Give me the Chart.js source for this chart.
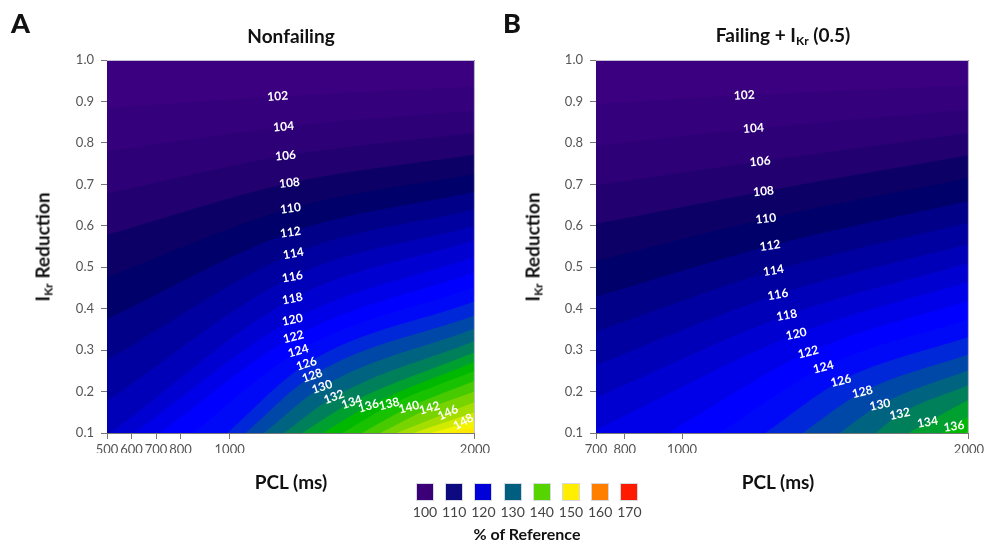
<!DOCTYPE html>
<html><head><meta charset="utf-8">
<script src="https://cdn.jsdelivr.net/npm/chart.js@4.4.0/dist/chart.umd.min.js"></script>
<style>
html,body{margin:0;padding:0;background:#fff;}
body{width:987px;height:546px;position:relative;overflow:hidden;font-family:Lato,'Open Sans',sans-serif;color:#111;}
canvas{position:absolute;top:0;}
.panel{position:absolute;font-weight:900;font-size:27px;line-height:1;}
.ttl{position:absolute;font-weight:700;font-size:19px;transform:translate(-50%,-50%);white-space:nowrap;}
.ytl{position:absolute;font-weight:700;font-size:19px;transform:translate(-50%,-50%) rotate(-90deg);white-space:nowrap;}
sub{font-size:12px;vertical-align:-3px;}
.sw{position:absolute;top:483px;width:18px;height:18px;box-sizing:border-box;border:1px solid #d8d8e0;}
.swl{position:absolute;top:503px;font-size:14px;color:#444;transform:translateX(-50%);}
</style></head>
<body>
<canvas id="cA" width="493" height="546" style="left:0;width:493px;height:546px"></canvas>
<canvas id="cB" width="494" height="546" style="left:493px;width:494px;height:546px"></canvas>
<div class="panel" style="left:11px;top:9px">A</div>
<div class="panel" style="left:503px;top:9px">B</div>
<div class="ttl" style="left:291px;top:35px">Nonfailing</div>
<div class="ttl" style="left:783px;top:35px">Failing + I<sub>Kr</sub> (0.5)</div>
<div class="ytl" style="left:43px;top:247px">I<sub>Kr</sub> Reduction</div>
<div class="ytl" style="left:533px;top:247px">I<sub>Kr</sub> Reduction</div>
<div class="ttl" style="left:291px;top:481px">PCL (ms)</div>
<div class="ttl" style="left:778px;top:481px">PCL (ms)</div>
<div id="legend"></div>
<div class="ttl" style="left:527px;top:533px;font-size:16px">% of Reference</div>
<script>
// ---------- data ----------
const yTicks = [0.1,0.2,0.3,0.4,0.5,0.6,0.7,0.8,0.9,1.0];
const xTicksA = [500,600,700,800,1000,2000];
const xTicksB = [700,800,1000,2000];

// Panel A (Nonfailing): contour levels and their traced paths (PCL, IKr reduction)
const levelsA = [100,102,104,106,108,110,112,114,116,118,120,122,124,126,128,130,132,134,136,138,140,142,144,146,148,150];
const pclA = [
 [500,2000],[500,1196,2000],[500,1220,2000],[500,1228,2000],[500,1244,2000],[500,1248,2000],
 [500,1248,2000],[500,1260,2000],[500,1256,2000],[514,1256,2000],[610,1256,2000],[715,1260,2000],
 [850,1280,2000],[990,1313,2000],[1065,1337,2000],[1140,1377,2000],[1221,1425,2000],[1297,1498,2000],
 [1380,1566,2000],[1460,1650,2000],[1540,1731,2000],[1615,1815,2000],[1680,2000],[1750,2000],
 [1820,2000],[1880,2000]
];
const ikrA = [
 [1,1],[.884,.912,.936],[.78,.839,.878],[.678,.769,.824],[.578,.703,.772],[.476,.642,.725],
 [.375,.584,.682],[.276,.533,.64],[.177,.477,.6],[.1,.424,.565],[.1,.373,.525],[.1,.332,.488],
 [.1,.298,.452],[.1,.267,.418],[.1,.238,.384],[.1,.211,.352],[.1,.187,.322],[.1,.174,.295],
 [.1,.165,.272],[.1,.166,.25],[.1,.162,.226],[.1,.160,.2],[.1,.175],[.1,.15],
 [.1,.13],[.1,.113]
];
const labelValA = [102,104,106,108,110,112,114,116,118,120,122,124,126,128,130,132,134,136,138,140,142,146,148];
const labelPclA = [1196,1220,1228,1244,1248,1248,1260,1256,1256,1256,1260,1280,1313,1337,1377,1425,1498,1566,1650,1731,1815,1890,1953];
const labelIkrA = [.912,.839,.769,.703,.642,.584,.533,.477,.424,.373,.332,.298,.267,.238,.211,.187,.174,.165,.170,.162,.160,.149,.127];

// Panel B (Failing + IKr 0.5)
const levelsB = [100,102,104,106,108,110,112,114,116,118,120,122,124,126,128,130,132,134,136,138];
const pclB = [
 [700,2000],[700,1217,2000],[700,1249,2000],[700,1272,2000],[700,1284,2000],[700,1292,2000],
 [700,1307,2000],[700,1319,2000],[700,1334,2000],[700,1365,2000],[700,1398,2000],[950,1440,2000],
 [1130,1493,2000],[1290,1554,2000],[1420,1629,2000],[1550,1690,2000],[1675,1759,2000],[1790,1856,2000],
 [1905,1948,2000],[1985,2000]
];
const ikrB = [
 [1,1],[.894,.915,.9385],[.794,.835,.88],[.698,.755,.824],[.605,.683,.77],[.515,.617,.715],
 [.429,.552,.66],[.345,.492,.608],[.264,.434,.556],[.185,.384,.51],[.108,.339,.465],[.1,.295,.42],
 [.1,.259,.375],[.1,.226,.332],[.1,.199,.29],[.1,.168,.252],[.1,.146,.216],[.1,.126,.18],
 [.1,.117,.14],[.1,.106]
];
const labelValB = [102,104,106,108,110,112,114,116,118,120,122,124,126,128,130,132,134,136];
const labelPclB = [1217,1249,1272,1284,1292,1307,1319,1334,1365,1398,1440,1493,1554,1629,1690,1759,1856,1948];
const labelIkrB = [.915,.835,.755,.683,.617,.552,.492,.434,.384,.339,.295,.259,.226,.199,.168,.146,.126,.116];

const legendVals = [100,110,120,130,140,150,160,170];

// ---------- styles ----------
const labelAngA = [-4,-5,-5,-6,-8,-9,-10,-10,-11,-12,-14,-16,-18,-19,-19,-20,-18,-16,-14,-14,-16,-24,-28];
const labelAngB = [-3,-4,-5,-5,-7,-8,-9,-10,-11,-12,-14,-14,-14,-14,-12,-12,-10,-8];
const legendColors = ['#3b0078','#0d0a80','#0000d8','#005f80','#55d400','#ffee00','#ff8000','#ff1a00'];
const cmapStops = [[100,'#3e0080'],[104,'#32007a'],[107,'#220070'],[109,'#0c0066'],[111,'#00006a'],[113,'#000088'],[115,'#0000a0'],[117,'#0000b8'],[119,'#0000d0'],[121,'#0000e8'],[123,'#0000ff'],[125,'#0008f8'],[127,'#0028d8'],[129,'#0048a8'],[131,'#006480'],[133,'#00805a'],[135,'#00a030'],[137,'#00b800'],[139,'#18c200'],[141,'#48ca00'],[143,'#78d400'],[145,'#a4de00'],[147,'#d0ea00'],[149,'#f4f400'],[151,'#ffe800'],[153,'#ffd000'],[160,'#ff8000'],[170,'#ff1a00']];
function hex2rgb(h){return [parseInt(h.slice(1,3),16),parseInt(h.slice(3,5),16),parseInt(h.slice(5,7),16)];}
function cmap(v){
  for(let i=0;i<cmapStops.length-1;i++){
    const [a,ca]=cmapStops[i],[b,cb]=cmapStops[i+1];
    if(v>=a&&v<=b){const t=(v-a)/(b-a);const A=hex2rgb(ca),B=hex2rgb(cb);
      return 'rgb('+A.map((c,k)=>Math.round(c+(B[k]-c)*t)).join(',')+')';}
  }
  return cmapStops[cmapStops.length-1][1];
}

// legend
const lg=document.getElementById('legend');
legendVals.forEach((v,i)=>{
  const x=416+i*29.2;
  const s=document.createElement('div');s.className='sw';s.style.left=x+'px';s.style.background=legendColors[i];lg.appendChild(s);
  const t=document.createElement('div');t.className='swl';t.style.left=(x+9)+'px';t.textContent=v;lg.appendChild(t);
});

const labelPlugin={
  id:'clabels',
  afterDatasetsDraw(chart,args,opts){
    const ctx=chart.ctx,xs=chart.scales.x,ys=chart.scales.y;
    ctx.save();
    ctx.fillStyle='#ffffff';ctx.font='bold 12px Lato, sans-serif';ctx.textAlign='center';ctx.textBaseline='middle';
    opts.vals.forEach((v,i)=>{
      ctx.save();
      ctx.translate(xs.getPixelForValue(opts.pcl[i]),ys.getPixelForValue(opts.ikr[i]));
      ctx.rotate(opts.ang[i]*Math.PI/180);
      ctx.fillText(String(v),0,0);
      ctx.restore();
    });
    const a=chart.chartArea;
    ctx.strokeStyle='#c4c0d4';ctx.lineWidth=1;
    ctx.beginPath();ctx.moveTo(a.left,a.top+0.5);ctx.lineTo(a.right-0.5,a.top+0.5);ctx.lineTo(a.right-0.5,a.bottom);ctx.stroke();
    ctx.restore();
  }
};

function makeChart(id,levels,pcls,ikrs,xmin,xmax,xticks,lv,lp,lr,la,yW,rPad){
  const datasets=[];
  for(let i=levels.length-1;i>=0;i--){
    datasets.push({
      data:pcls[i].map((p,j)=>({x:p,y:ikrs[i][j]})),
      fill:'start',backgroundColor:cmap(levels[i]+1),borderWidth:0,borderColor:'rgba(0,0,0,0)',
      pointRadius:0,cubicInterpolationMode:'monotone'
    });
  }
  const tickFont={family:'Lato',size:13};
  return new Chart(document.getElementById(id),{
    type:'line',
    data:{datasets},
    plugins:[labelPlugin],
    options:{
      responsive:false,animation:false,devicePixelRatio:1,
      layout:{padding:{left:0,right:rPad,top:60,bottom:93}},
      plugins:{legend:{display:false},tooltip:{enabled:false},
        clabels:{vals:lv,pcl:lp,ikr:lr,ang:la}},
      scales:{
        x:{type:'linear',min:xmin,max:xmax,
          afterBuildTicks:ax=>{ax.ticks=xticks.map(v=>({value:v}));},
          afterFit:ax=>{ax.height=20;},
          ticks:{autoSkip:false,maxRotation:0,padding:3,color:'#555',font:tickFont,callback:v=>String(v)},
          grid:{drawOnChartArea:false,drawTicks:true,tickLength:6,color:'#777'},
          border:{display:true,color:'#777'}},
        y:{type:'linear',min:0.1,max:1.0,
          afterBuildTicks:ax=>{ax.ticks=yTicks.map(v=>({value:v}));},
          afterFit:ax=>{ax.width=yW;},
          ticks:{padding:7,color:'#555',font:tickFont,callback:v=>Number(v).toFixed(1)},
          grid:{drawOnChartArea:false,drawTicks:true,tickLength:6,color:'#777'},
          border:{display:true,color:'#777'}}
      }
    }
  });
}
makeChart('cA',levelsA,pclA,ikrA,500,2000,xTicksA,labelValA,labelPclA,labelIkrA,labelAngA,107,13);
makeChart('cB',levelsB,pclB,ikrB,700,2000,xTicksB,labelValB,labelPclB,labelIkrB,labelAngB,103,17);
</script>
</body></html>
